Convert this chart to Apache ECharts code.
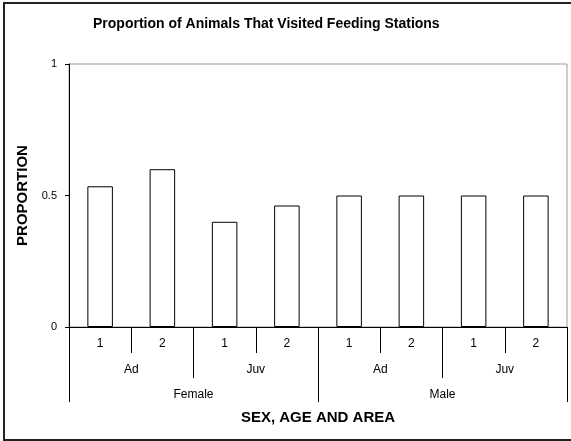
<!DOCTYPE html>
<html>
<head>
<meta charset="utf-8">
<script src="https://cdn.jsdelivr.net/npm/echarts@6/dist/echarts.min.js"></script>
<style>
html,body{margin:0;padding:0;background:#fff;}
#c{width:571px;height:441px;}
</style>
</head>
<body>
<div id="c"></div>
<script>
var areaLabels = ['1', '2', '1', '2', '1', '2', '1', '2'];
var ageLabels = ['Ad', 'Juv', 'Ad', 'Juv'];
var sexLabels = ['Female', 'Male'];
var proportions = [0.535, 0.6, 0.4, 0.462, 0.5, 0.5, 0.5, 0.5];
var yTicks = [0, 0.5, 1];

var FONT = '"Liberation Sans", Arial, sans-serif';
var chart = echarts.init(document.getElementById('c'), null, {renderer: 'canvas'});

var option = {
  animation: false,
  backgroundColor: '#fff',
  title: {
    text: 'Proportion of Animals That Visited Feeding Stations',
    left: 93,
    top: 17,
    padding: 0,
    textStyle: {fontFamily: FONT, fontSize: 14, fontWeight: 'bold', color: '#000'}
  },
  graphic: [{
    type: 'rect',
    silent: true,
    shape: {x: 4, y: 3, width: 580, height: 437},
    style: {fill: 'none', stroke: '#222', lineWidth: 2},
    z: 100
  }],
  grid: {
    left: 69, right: 4, top: 64, bottom: 114,
    show: true, borderColor: '#9a9a9a', borderWidth: 1, backgroundColor: '#fff'
  },
  xAxis: [{
    type: 'category',
    data: areaLabels,
    position: 'bottom',
    axisLine: {show: true, lineStyle: {color: '#000', width: 1}},
    axisTick: {show: true, interval: 0, length: 26, lineStyle: {color: '#000'}},
    axisLabel: {interval: 0, margin: 11, fontFamily: FONT, fontSize: 12, color: '#000'},
    splitLine: {show: false}
  }, {
    type: 'category',
    data: ageLabels,
    position: 'bottom',
    axisLine: {show: false},
    axisTick: {show: true, interval: 0, length: 51, lineStyle: {color: '#000'}},
    axisLabel: {interval: 0, margin: 37, fontFamily: FONT, fontSize: 12, color: '#000'},
    splitLine: {show: false}
  }, {
    type: 'category',
    data: sexLabels,
    position: 'bottom',
    name: 'SEX, AGE AND AREA',
    nameLocation: 'middle',
    nameGap: 83,
    nameTextStyle: {fontFamily: FONT, fontSize: 15, fontWeight: 'bold', color: '#000'},
    axisLine: {show: false},
    axisTick: {show: true, interval: 0, length: 75, lineStyle: {color: '#000'}},
    axisLabel: {interval: 0, margin: 62, fontFamily: FONT, fontSize: 12, color: '#000'},
    splitLine: {show: false}
  }],
  yAxis: {
    type: 'value',
    min: yTicks[0],
    max: yTicks[yTicks.length - 1],
    interval: yTicks[1] - yTicks[0],
    name: 'PROPORTION',
    nameLocation: 'middle',
    nameGap: 34,
    nameTextStyle: {fontFamily: FONT, fontSize: 15, fontWeight: 'bold', color: '#000'},
    axisLine: {show: true, lineStyle: {color: '#000', width: 1}},
    axisTick: {show: true, length: 4, lineStyle: {color: '#000'}},
    axisLabel: {margin: 12, fontFamily: FONT, fontSize: 11, color: '#000',
      formatter: function (v) { return String(v); }},
    splitLine: {show: false}
  },
  series: [{
    type: 'bar',
    xAxisIndex: 0,
    data: proportions,
    barWidth: '41%',
    itemStyle: {color: '#fff', borderColor: '#000', borderWidth: 1}
  }]
};
chart.setOption(option);
</script>
</body>
</html>
